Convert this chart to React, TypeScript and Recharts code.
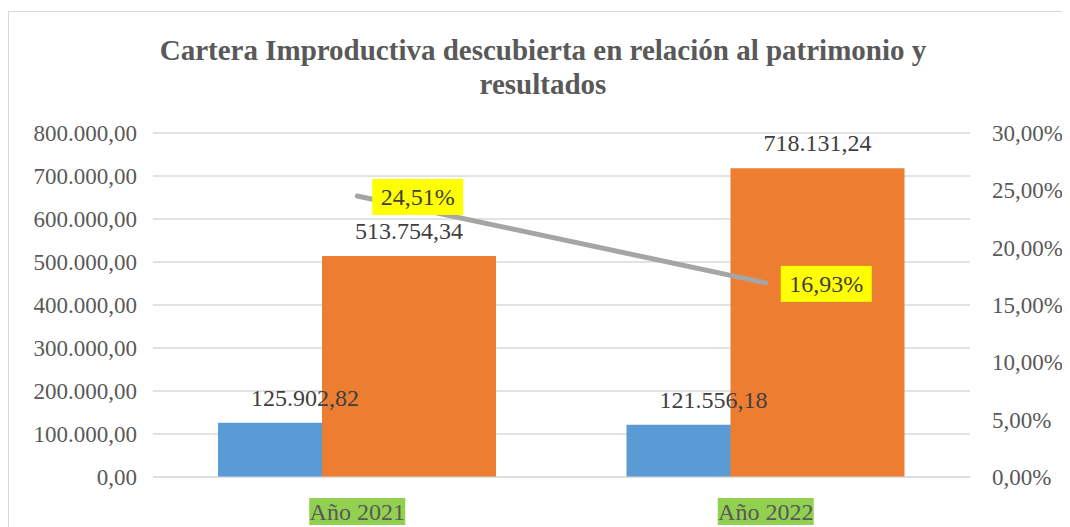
import React from 'react';
import {
  ComposedChart,
  Bar,
  Line,
  XAxis,
  YAxis,
  CartesianGrid,
  LabelList,
} from 'recharts';

const categories = ['Año 2021', 'Año 2022'];
const carteraDescubierta = [125902.82, 121556.18];
const patrimonioResultados = [513754.34, 718131.24];
const porcentaje = [24.51, 16.93];
const leftTicks = [0, 100000, 200000, 300000, 400000, 500000, 600000, 700000, 800000];
const rightTicks = [0, 5, 10, 15, 20, 25, 30];

const data = categories.map((name, i) => ({
  name,
  cartera: carteraDescubierta[i],
  patrimonio: patrimonioResultados[i],
  pct: porcentaje[i],
}));

const FONT = '"Liberation Serif", "Times New Roman", serif';

// 125902.82 -> "125.902,82"
const fmtNum = (v: number) => {
  const [int, dec] = v.toFixed(2).split('.');
  return int.replace(/\B(?=(\d{3})+(?!\d))/g, '.') + ',' + dec;
};
const fmtPct = (v: number) => v.toFixed(2).replace('.', ',') + '%';

const BarValueLabel = (props: any) => {
  const { x, y, width, value } = props;
  return (
    <text
      x={x + width / 2}
      y={y - 25}
      textAnchor="middle"
      dominantBaseline="central"
      fontFamily={FONT}
      fontSize={24}
      fill="#404040"
    >
      {fmtNum(value)}
    </text>
  );
};

const PctLabel = (props: any) => {
  const { x, y, value } = props;
  const left = x + 15;
  return (
    <g>
      <rect x={left} y={y - 17} width={91} height={36} fill="#FFFF00" />
      <text
        x={left + 45.5}
        y={y + 1}
        textAnchor="middle"
        dominantBaseline="central"
        fontFamily={FONT}
        fontSize={24}
        fill="#404040"
      >
        {fmtPct(value)}
      </text>
    </g>
  );
};

const CategoryTick = (props: any) => {
  const { x, y, payload } = props;
  return (
    <g>
      <rect x={x - 48} y={y + 13} width={96} height={27} fill="#92D050" />
      <text
        x={x}
        y={y + 27}
        textAnchor="middle"
        dominantBaseline="central"
        fontFamily={FONT}
        fontSize={24}
        fill="#595959"
      >
        {payload.value}
      </text>
    </g>
  );
};

export default function App() {
  return (
    <div
      style={{
        position: 'relative',
        width: 1070,
        height: 527,
        margin: '-8px 0 0 -8px',
        background: '#fff',
        overflow: 'hidden',
      }}
    >
      {/* chart frame, only top and left edges are visible in the crop */}
      <div
        style={{
          position: 'absolute',
          left: 8,
          top: 11,
          width: 1100,
          height: 540,
          borderTop: '1.5px solid #d9d9d9',
          borderLeft: '1.5px solid #d9d9d9',
          boxSizing: 'border-box',
        }}
      />
      <div
        style={{
          position: 'absolute',
          left: 143,
          top: 33,
          width: 800,
          textAlign: 'center',
          fontFamily: FONT,
          fontWeight: 'bold',
          fontSize: 29,
          lineHeight: '34px',
          color: '#595959',
        }}
      >
        Cartera Improductiva descubierta en relación al patrimonio y resultados
      </div>
      <ComposedChart
        width={1070}
        height={527}
        data={data}
        margin={{ top: 133, right: 10, bottom: 0, left: 8 }}
        barGap={-70}
        style={{ position: 'absolute', left: 0, top: 0 }}
      >
        <CartesianGrid yAxisId="left" vertical={false} stroke="#d9d9d9" strokeWidth={1.5} />
        <XAxis
          dataKey="name"
          height={50}
          axisLine={{ stroke: '#d9d9d9' }}
          tickLine={false}
          tick={<CategoryTick />}
        />
        <YAxis
          yAxisId="left"
          orientation="left"
          width={145}
          domain={[0, 800000]}
          ticks={leftTicks}
          tickFormatter={fmtNum}
          axisLine={false}
          tickLine={false}
          tickSize={0}
          tickMargin={16}
          tick={{ fontFamily: FONT, fontSize: 23, fill: '#595959' }}
        />
        <YAxis
          yAxisId="right"
          orientation="right"
          width={90}
          domain={[0, 30]}
          ticks={rightTicks}
          tickFormatter={fmtPct}
          axisLine={false}
          tickLine={false}
          tickSize={0}
          tickMargin={22}
          tick={{ fontFamily: FONT, fontSize: 23, fill: '#595959', textAnchor: 'start' }}
        />
        <Bar yAxisId="left" dataKey="cartera" fill="#5B9BD5" barSize={174} isAnimationActive={false}>
          <LabelList dataKey="cartera" content={<BarValueLabel />} />
        </Bar>
        <Bar yAxisId="left" dataKey="patrimonio" fill="#ED7D31" barSize={174} isAnimationActive={false}>
          <LabelList dataKey="patrimonio" content={<BarValueLabel />} />
        </Bar>
        <Line
          yAxisId="right"
          dataKey="pct"
          stroke="#A5A5A5"
          strokeWidth={5}
          strokeLinecap="round"
          dot={false}
          activeDot={false}
          isAnimationActive={false}
          label={<PctLabel />}
        />
      </ComposedChart>
    </div>
  );
}
